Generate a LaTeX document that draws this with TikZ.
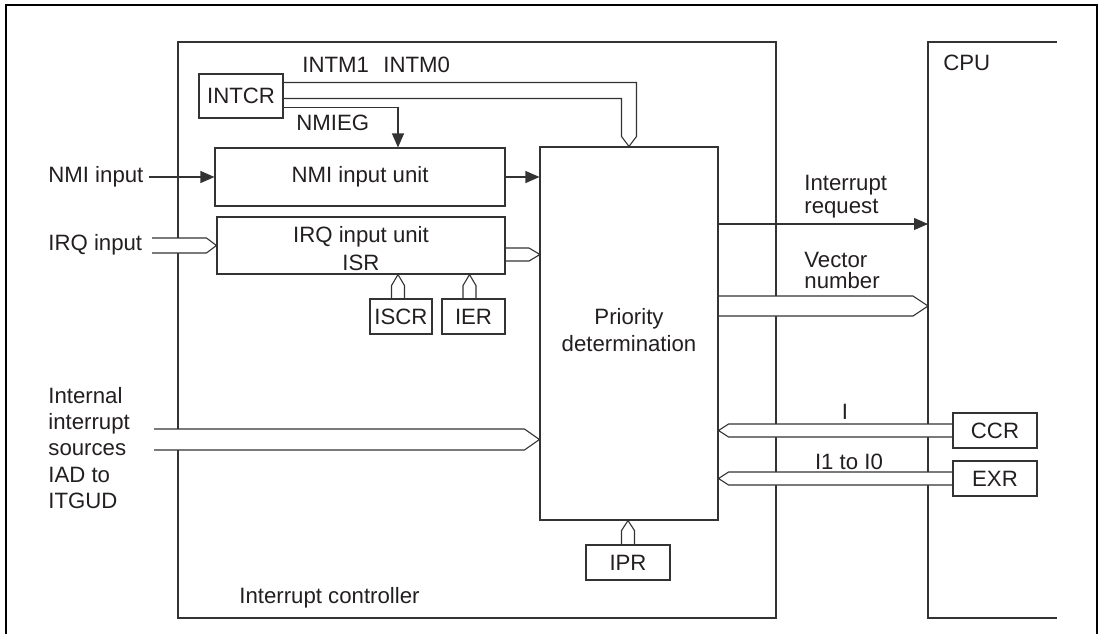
\documentclass[tikz,border=0pt]{standalone}
\usepackage{fontspec}
\setmainfont{Liberation Sans}
\usetikzlibrary{arrows.meta,calc}
\definecolor{ink}{HTML}{231F20}
\definecolor{ln}{HTML}{333333}
\pgfdeclarelayer{background}
\pgfdeclarelayer{foreground}
\pgfsetlayers{background,main,foreground}
% horizontal bus: tail coord, tip coord, half width (px), chevron depth (px)
\newcommand\hbus[4]{\filldraw[busst] let \p1=(#1), \p2=(#2), \n1={sign(\x2-\x1)} in
  (\x1,\y2+#3*0.5pt) -- (\x2-\n1*#4*0.5pt,\y2+#3*0.5pt) -- (\x2,\y2) --
  (\x2-\n1*#4*0.5pt,\y2-#3*0.5pt) -- (\x1,\y2-#3*0.5pt);}
% vertical bus
\newcommand\vbus[4]{\filldraw[busst] let \p1=(#1), \p2=(#2), \n1={sign(\y2-\y1)} in
  (\x2-#3*0.5pt,\y1) -- (\x2-#3*0.5pt,\y2-\n1*#4*0.5pt) -- (\x2,\y2) --
  (\x2+#3*0.5pt,\y2-\n1*#4*0.5pt) -- (\x2+#3*0.5pt,\y1);}
\begin{document}
\begin{tikzpicture}[x=0.5pt,y=-0.5pt,
  font=\fontsize{11.1}{13.3}\selectfont,
  box/.style={draw=ln, line width=0.55pt, inner sep=0pt, text=ink},
  txt/.style={text=ink, inner sep=0pt, align=left},
  arr/.style={draw=ln, line width=0.55pt, -{Triangle[length=7pt,width=6pt]}},
  busst/.style={draw=ln, fill=white, line width=0.55pt},
  thin/.style={draw=ln, line width=0.55pt}]
\useasboundingbox (0,0) rectangle (1104,633);

% outer frame
\draw[line width=0.85pt, black] (6,640) -- (6,5) -- (1097,5) -- (1097,640);

\begin{pgfonlayer}{background}
  \node[box, minimum width=299pt, minimum height=288pt] (ctrl) at (477,330) {};
  \coordinate (cpuNW) at (928,42);
  \coordinate (cpuSW) at (928,618);
  \draw[thin] (1057,42) -- (cpuNW) -- (cpuSW) -- (1057,618);
\end{pgfonlayer}

\begin{pgfonlayer}{foreground}
  \node[box, minimum width=42pt, minimum height=22pt] (intcr) at (241,96) {INTCR};
  \node[box, minimum width=145pt, minimum height=29pt] (nmiunit) at (360,177) {NMI input unit};
  \node[box, minimum width=144pt, minimum height=28.5pt] (irqunit) at (361,245.5) {};
  \node[box, minimum width=31pt, minimum height=17.5pt] (iscr) at (401,316.5) {ISCR};
  \node[box, minimum width=31.5pt, minimum height=17.5pt] (ier) at (473.5,316.5) {IER};
  \node[box, minimum width=89pt, minimum height=186.5pt] (prio) at (629,333.5) {};
  \node[box, minimum width=42pt, minimum height=17.5pt] (ipr) at (628,562.5) {IPR};
  \node[box, minimum width=42pt, minimum height=17.5pt] (ccr) at (995,430.5) {CCR};
  \node[box, minimum width=42pt, minimum height=17.5pt] (exr) at (995,478.5) {EXR};
\end{pgfonlayer}

% texts
\node[txt, anchor=west] (cpulbl) at (943,63) {CPU};
\node[txt, anchor=west] (intm) at (302,65) {INTM1\hspace{7.2pt}INTM0};
\node[txt, anchor=west] (nmieg) at (296,123) {NMIEG};
\node[txt, anchor=west] (nmilbl) at (48,177) {NMI input};
\node[txt, anchor=west] (irqlbl) at (48,245) {IRQ input};
\node[txt, align=center, font=\fontsize{11.1}{14}\selectfont] (irqtxt) at (361,249) {IRQ input unit\\ISR};
\node[txt, align=center, font=\fontsize{11.1}{13.5}\selectfont] (priotxt) at (629,330) {Priority\\determination};
\node[txt, anchor=west, font=\fontsize{11.1}{13.1}\selectfont] (intlbl) at (48,448) {Internal\\interrupt\\sources\\IAD to\\ITGUD};
\node[txt, anchor=west, font=\fontsize{11.1}{11.5}\selectfont] (irqreq) at (804,197) {Interrupt\\request};
\node[txt, anchor=west, font=\fontsize{11.1}{10.5}\selectfont] (vecnum) at (804,270) {Vector\\number};
\node[txt] (ilbl) at (845,412) {I};
\node[txt] (i1lbl) at (849,462) {I1 to I0};
\node[txt, anchor=west] (ctrllbl) at (239,598) {Interrupt controller};

% INTCR bus to priority determination
\coordinate (ib1) at ($(intcr.north east)+(0,9)$);
\coordinate (ib2) at ($(intcr.north east)+(0,25)$);
\coordinate (ibT) at (prio.north);
\fill[white] (ib1) -| ($(ibT)+(7.5,-10)$) -- (ibT) -- ($(ibT)+(-7.5,-10)$) |- (ib2) -- cycle;
\draw[thin] (ib1) -| ($(ibT)+(7.5,-10)$) -- (ibT) -- ($(ibT)+(-7.5,-10)$) |- (ib2);

% NMIEG
\draw[arr] ($(intcr.south east)+(0,-11)$) -| ([xshift=19pt]nmiunit.north);

% NMI
\draw[arr] ($(nmilbl.east)+(5,0)$) -- (nmiunit.west |- nmilbl.east);
\draw[arr] (nmiunit.east) -- (prio.west |- nmiunit.east);

% IRQ buses
\coordinate (irqT0) at (152,245.5);
\hbus{irqT0}{irqunit.west}{7.5}{10}
\coordinate (irqO0) at (505,254.5);
\coordinate (irqO1) at (540,254.5);
\hbus{irqO0}{irqO1}{6.5}{11}
\coordinate (iscrT) at ([xshift=-1.5pt]iscr.north);
\vbus{iscrT}{iscrT |- irqunit.south}{6.5}{11}
\coordinate (ierT) at ([xshift=-2pt]ier.north);
\vbus{ierT}{ierT |- irqunit.south}{6.5}{11}

% internal interrupt sources
\coordinate (intT0) at (154,439.5);
\hbus{intT0}{prio.west |- intT0}{10.5}{15}

% IPR
\vbus{ipr.north}{ipr.north |- prio.south}{6.5}{10}

% interrupt request
\coordinate (irqR) at (prio.east |- 0,224);
\draw[arr] (irqR) -- (cpuNW |- irqR);

% vector number
\coordinate (vec0) at (prio.east |- 0,306);
\hbus{vec0}{cpuNW |- vec0}{10}{15}

% CCR / EXR
\hbus{ccr.west}{prio.east |- ccr.west}{6.5}{10}
\hbus{exr.west}{prio.east |- exr.west}{6.5}{10}
\end{tikzpicture}
\end{document}
